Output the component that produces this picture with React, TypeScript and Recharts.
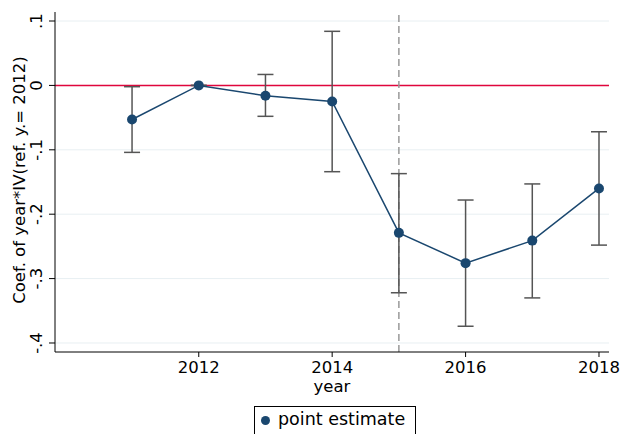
import React from "react";
import {
  ComposedChart,
  Line,
  XAxis,
  YAxis,
  CartesianGrid,
  ReferenceLine,
  ErrorBar,
} from "recharts";

const years = [2011, 2012, 2013, 2014, 2015, 2016, 2017, 2018];
const estimates = [-0.053, 0, -0.016, -0.025, -0.229, -0.276, -0.241, -0.16];
const ciLow = [-0.104, 0, -0.048, -0.134, -0.322, -0.374, -0.33, -0.248];
const ciHigh = [-0.002, 0, 0.017, 0.084, -0.137, -0.178, -0.153, -0.072];
const xTicks = [2012, 2014, 2016, 2018];
const yTicks = [0.1, 0, -0.1, -0.2, -0.3, -0.4];

const data = years.map((y, i) => ({
  year: y,
  est: estimates[i],
  err: [estimates[i] - ciLow[i], ciHigh[i] - estimates[i]],
}));

const FONT = "DejaVu Sans";
const FS = 16.5;
const NAVY = "#1a476f";

const fmtY = (v: number) => {
  if (Math.abs(v) < 1e-9) return "0";
  const s = (Math.round(v * 10) / 10).toString();
  return s.replace("0.", ".");
};

const YTick = (props: any) => {
  const { x, y, payload } = props;
  const tx = x - 5;
  return (
    <text
      x={tx}
      y={y}
      transform={`rotate(-90, ${tx}, ${y})`}
      textAnchor="middle"
      fontFamily={FONT}
      fontSize={FS}
      fill="#000"
    >
      {fmtY(payload.value)}
    </text>
  );
};

const XTick = (props: any) => {
  const { x, y, payload } = props;
  return (
    <text
      x={x}
      y={y + 14}
      textAnchor="middle"
      fontFamily={FONT}
      fontSize={FS}
      fill="#000"
    >
      {payload.value}
    </text>
  );
};

const YLabel = (props: any) => {
  const { viewBox } = props;
  const cx = 19;
  const cy = viewBox.y + viewBox.height / 2 - 2;
  return (
    <text
      x={cx}
      y={cy}
      transform={`rotate(-90, ${cx}, ${cy})`}
      textAnchor="middle"
      dominantBaseline="central"
      fontFamily={FONT}
      fontSize={FS}
      fill="#000"
    >
      Coef. of year*IV(ref. y.= 2012)
    </text>
  );
};

const XLabel = (props: any) => {
  const { viewBox } = props;
  const cx = viewBox.x + viewBox.width / 2;
  return (
    <text
      x={cx}
      y={viewBox.y + 40}
      textAnchor="middle"
      fontFamily={FONT}
      fontSize={FS}
      fill="#000"
    >
      year
    </text>
  );
};

export default function App() {
  return (
    <div
      style={{
        position: "absolute",
        left: 0,
        top: 0,
        width: 624,
        height: 434,
        background: "#fff",
        overflow: "hidden",
      }}
    >
      <ComposedChart
        width={624}
        height={434}
        data={data}
        margin={{ top: 12, right: 15, bottom: 0, left: 0 }}
      >
        <CartesianGrid
          vertical={false}
          stroke="#e8eff2"
          strokeWidth={1}
          horizontalValues={yTicks}
        />
        <XAxis
          dataKey="year"
          type="number"
          domain={[2009.845, 2018.15]}
          ticks={xTicks}
          allowDataOverflow
          height={82}
          tickSize={5}
          stroke="#000"
          tickLine={{ stroke: "#000" }}
          axisLine={{ stroke: "#000" }}
          tick={<XTick />}
          label={<XLabel />}
        />
        <YAxis
          type="number"
          domain={[-0.414, 0.114]}
          ticks={yTicks}
          allowDataOverflow
          width={55}
          tickSize={6}
          stroke="#000"
          tickLine={{ stroke: "#000" }}
          axisLine={{ stroke: "#000" }}
          tick={<YTick />}
          label={<YLabel />}
        />
        <ReferenceLine y={0} stroke="#e0063c" strokeWidth={1.5} />
        <ReferenceLine
          x={2015}
          stroke="#999999"
          strokeWidth={1.5}
          strokeDasharray="7 4"
        />
        <Line
          dataKey="est"
          stroke={NAVY}
          strokeWidth={1.5}
          isAnimationActive={false}
          dot={{ r: 5, fill: NAVY, stroke: NAVY, strokeWidth: 0 }}
          activeDot={false}
        >
          <ErrorBar
            dataKey="err"
            width={8}
            stroke="#555555"
            strokeWidth={1.5}
            direction="y"
            isAnimationActive={false}
          />
        </Line>
      </ComposedChart>
      <div
        style={{
          position: "absolute",
          left: 254,
          top: 406,
          width: 162,
          height: 40,
          border: "1px solid #000",
          boxSizing: "border-box",
          fontFamily: FONT,
          fontSize: 17.5,
          background: "#fff",
        }}
      >
        <span
          style={{
            position: "absolute",
            left: 6,
            top: 9,
            width: 9,
            height: 9,
            borderRadius: "50%",
            background: NAVY,
          }}
        />
        <span
          style={{
            position: "absolute",
            left: 23,
            top: 2,
            whiteSpace: "nowrap",
          }}
        >
          point estimate
        </span>
      </div>
    </div>
  );
}
